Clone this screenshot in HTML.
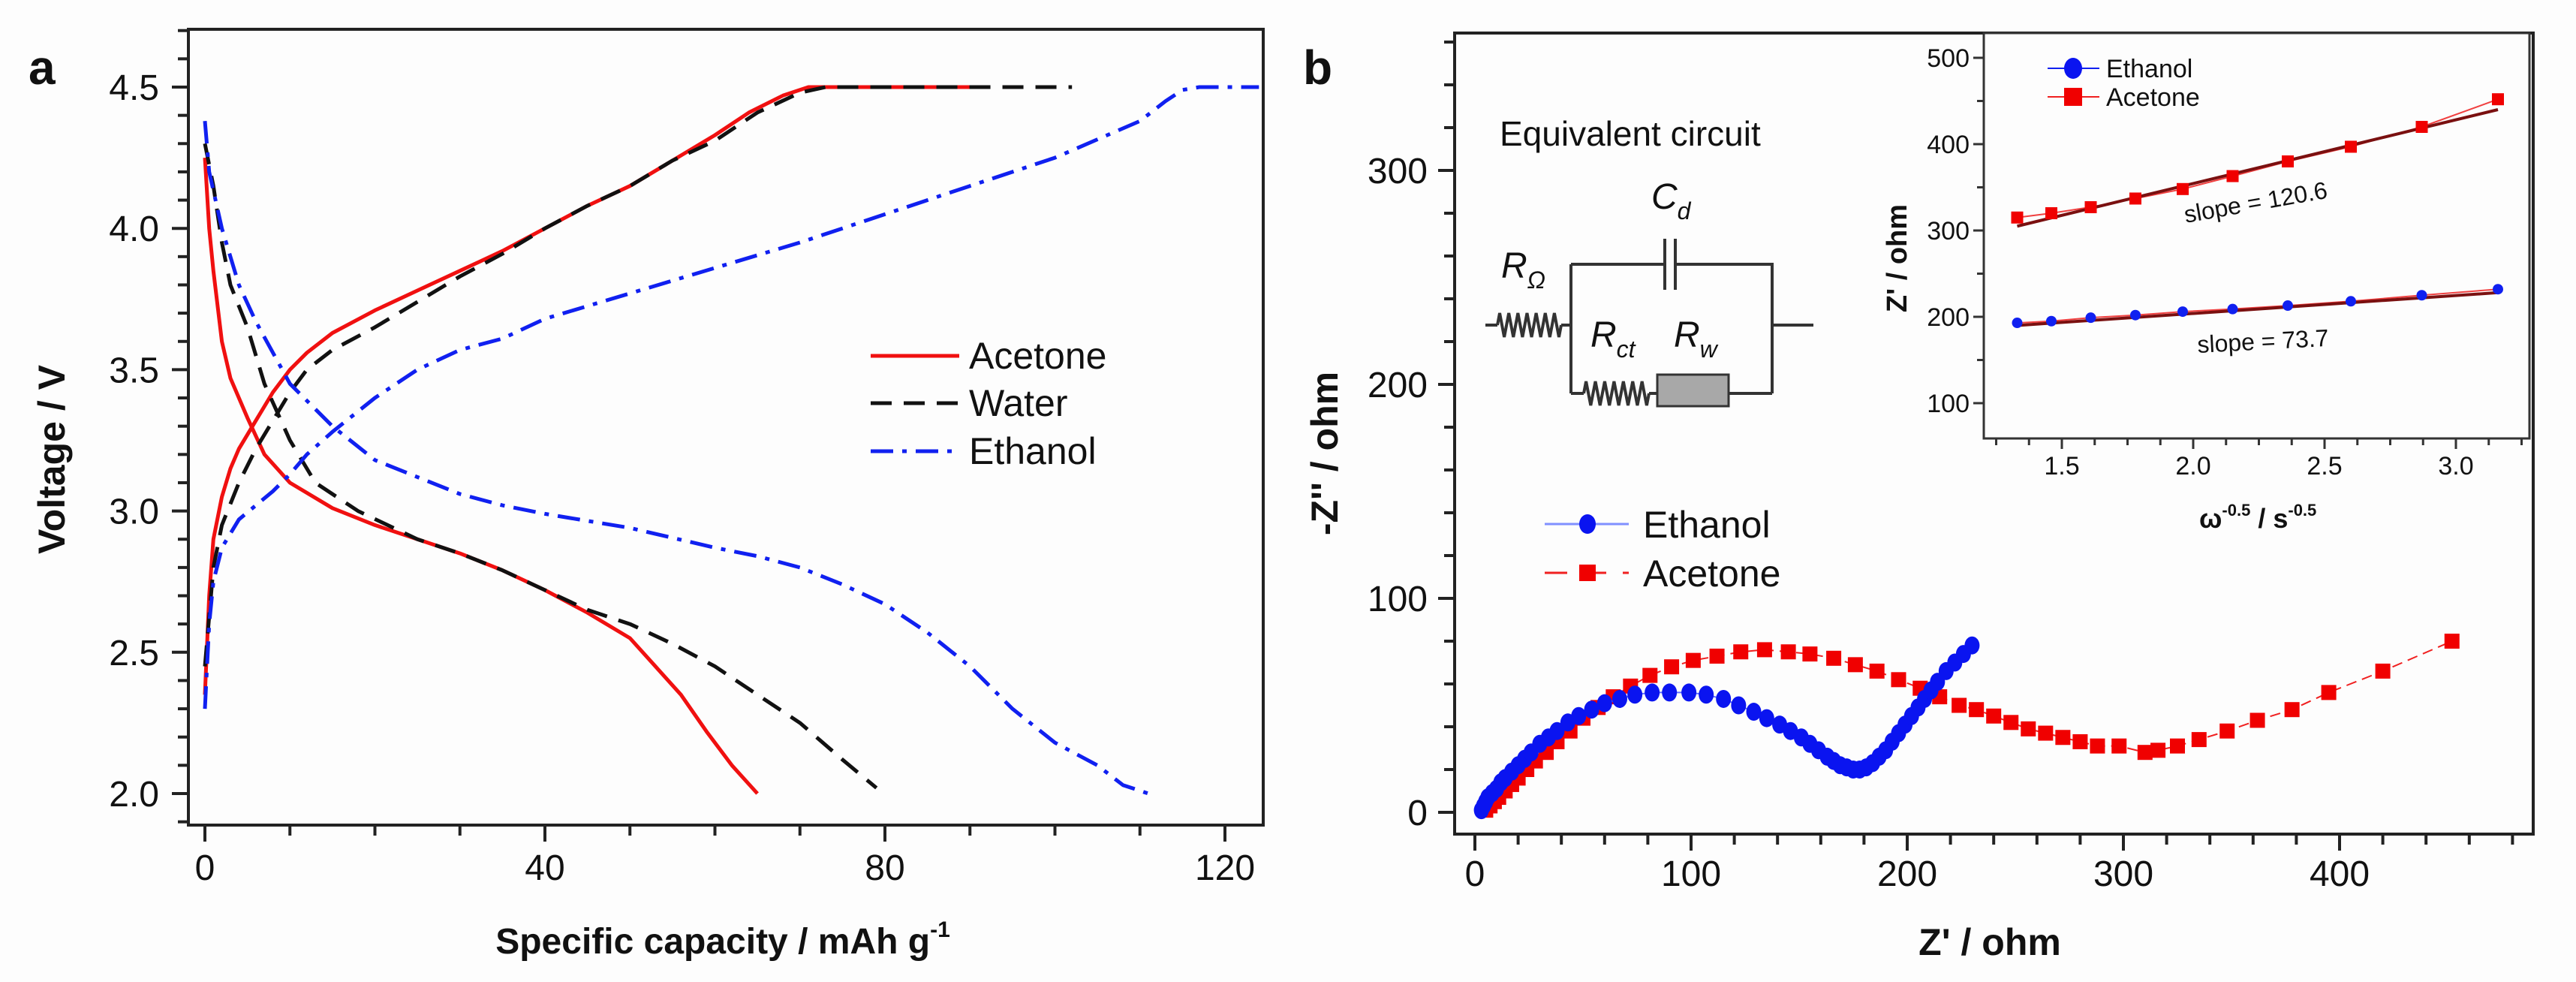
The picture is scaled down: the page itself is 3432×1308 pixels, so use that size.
<!DOCTYPE html>
<html><head><meta charset="utf-8"><style>
html,body{margin:0;padding:0;background:#fff}
svg{display:block}
text{font-family:"Liberation Sans",Arial,sans-serif;fill:#111}
</style></head><body>
<svg id="fig" width="3432" height="1308" viewBox="0 0 3432 1308" xmlns="http://www.w3.org/2000/svg">
<rect width="3432" height="1308" fill="#fdfdfd"/>
<g id="pa"></g>
<g id="pb"></g>
<g id="inset"></g>
</svg>
<script>
// ---------- Panel a data ----------
const aXTicks = [0,40,80,120];
const aYTicks = [2.0,2.5,3.0,3.5,4.0,4.5];
const acChgX = [0,0.5,1,2,3,4,6,8,10,12,15,20,25,30,35,40,45,50,55,60,64,68,71,92];
const acChgY = [2.35,2.7,2.9,3.05,3.15,3.22,3.32,3.42,3.5,3.56,3.63,3.71,3.78,3.85,3.92,4.0,4.08,4.15,4.24,4.33,4.41,4.47,4.5,4.5];
const waChgX = [0,1,2,4,6,8,10,12,15,20,25,30,35,40,45,50,55,60,65,70,73,102];
const waChgY = [2.45,2.8,2.95,3.1,3.22,3.32,3.42,3.5,3.57,3.65,3.74,3.83,3.91,4.0,4.08,4.15,4.24,4.31,4.41,4.48,4.5,4.5];
const etChgX = [0,0.5,1,2,4,6,8,10,12,15,20,25,30,35,40,50,60,70,80,90,100,110,113,115,117,124];
const etChgY = [2.3,2.6,2.75,2.87,2.97,3.02,3.07,3.13,3.2,3.28,3.4,3.5,3.57,3.61,3.68,3.77,3.86,3.95,4.05,4.15,4.25,4.38,4.45,4.49,4.5,4.5];
const acDisX = [0,0.5,1,2,3,5,7,10,15,20,25,30,35,40,45,50,53,56,59,62,65];
const acDisY = [4.25,4.0,3.85,3.6,3.47,3.33,3.2,3.1,3.01,2.95,2.9,2.85,2.79,2.72,2.64,2.55,2.45,2.35,2.22,2.1,2.0];
const waDisX = [0,1,2,3,5,7,10,13,18,25,30,35,40,45,50,55,60,65,70,75,79];
const waDisY = [4.3,4.15,3.95,3.8,3.65,3.45,3.25,3.1,3.0,2.9,2.85,2.79,2.72,2.65,2.6,2.53,2.45,2.35,2.25,2.12,2.02];
const etDisX = [0,0.5,2,4,6,10,15,20,25,30,35,40,50,60,65,70,75,80,85,90,95,100,105,108,111];
const etDisY = [4.38,4.2,4.0,3.8,3.67,3.45,3.3,3.18,3.12,3.06,3.02,2.99,2.94,2.87,2.84,2.8,2.74,2.67,2.57,2.45,2.3,2.18,2.1,2.03,2.0];

// ---------- Panel b data ----------
const bXTicks = [0,100,200,300,400];
const bYTicks = [0,100,200,300];
const ethZre = [3,4,5,6,8,10,12,14,17,20,23,26,30,34,38,43,48,54,60,67,74,82,90,99,107,115,122,129,135,141,146,151,155,159,163,166,169,172,175,178,181,184,187,190,193,196,199,202,205,208,211,214,218,222,226,230];
const ethZim = [1,3,5,7,9,11,14,16,19,22,25,28,32,35,38,42,45,48,51,53,55,56,56,56,55,53,50,47,44,41,38,35,32,29,26,24,22,21,20,20,21,23,26,29,33,37,41,45,49,53,57,61,66,70,74,78];
const aceZre = [5,7,9,11,14,17,20,24,28,33,38,44,50,57,64,72,81,91,101,112,123,134,145,155,166,176,186,196,206,215,224,232,240,248,256,264,272,280,288,298,310,316,325,335,348,362,378,395,420,452];
const aceZim = [1,3,5,7,10,13,16,20,24,28,33,38,44,49,54,59,64,68,71,73,75,76,75,74,72,69,66,62,58,54,50,48,45,42,39,37,35,33,31,31,28,29,31,34,38,43,48,56,66,80];

// ---------- Inset data ----------
const inXTicks = [1.5,2.0,2.5,3.0];
const inYTicks = [100,200,300,400,500];
const inOmega = [1.33,1.46,1.61,1.78,1.96,2.15,2.36,2.60,2.87,3.16];
const inAce = [315,320,327,337,348,363,380,397,420,452];
const inEth = [193,195,199,202,206,209,213,218,225,232];
const fitAce = [305,440];
const fitEth = [190,228];

const NS='http://www.w3.org/2000/svg';
function mk(parent,tag,attrs){const e=document.createElementNS(NS,tag);for(const k in attrs)e.setAttribute(k,attrs[k]);parent.appendChild(e);return e;}
function txt(parent,x,y,s,size,opts){opts=opts||{};const t=mk(parent,'text',{x:x,y:y,'font-size':size,'text-anchor':opts.anchor||'start'});if(opts.bold)t.setAttribute('font-weight','bold');if(opts.italic)t.setAttribute('font-style','italic');if(opts.transform)t.setAttribute('transform',opts.transform);t.textContent=s;return t;}
function lin(d0,d1,p0,p1){return v=>p0+(v-d0)*(p1-p0)/(d1-d0);}
function pathD(xs,ys,sx,sy){return xs.map((v,i)=>(i?'L':'M')+sx(v).toFixed(1)+' '+sy(ys[i]).toFixed(1)).join(' ');}

// ===== Panel a =====
const pa=document.getElementById('pa');
const ax=lin(0,40,273,726), ay=lin(4.5,2.0,116,1057);
let f=mk(pa,'rect',{x:251,y:39,width:1432,height:1060,fill:'none',stroke:'#222','stroke-width':4});

for(let v=0;v<=120;v+=10){const x=ax(v);const maj=v%40===0;mk(pa,'line',{x1:x,y1:1099,x2:x,y2:1099+(maj?22:14),stroke:'#222','stroke-width':4});}
for(let v=1.9;v<=4.71;v+=0.1){const y=ay(v);const maj=Math.abs(v*2-Math.round(v*2))<1e-6;mk(pa,'line',{x1:251,y1:y,x2:251-(maj?22:14),y2:y,stroke:'#222','stroke-width':4});}
aXTicks.forEach(v=>{const t=txt(pa,ax(v),1172,String(v),48,{anchor:'middle'});});
aYTicks.forEach(v=>{const t=txt(pa,212,ay(v)+17,v.toFixed(1),48,{anchor:'end'});});
let t=txt(pa,963,1270,'Specific capacity / mAh g',48,{anchor:'middle',bold:true});
const sup=mk(t,'tspan',{'font-size':30,dy:-22});sup.textContent='-1';

t=txt(pa,86,612,'Voltage / V',50,{anchor:'middle',bold:true,transform:'rotate(-90 86 612)'});

t=txt(pa,38,112,'a',64,{bold:true});
const aSeries=[
 [acChgX,acChgY,'#f01010','none','acetone-charge-curve'],[acDisX,acDisY,'#f01010','none','acetone-discharge-curve'],
 [waChgX,waChgY,'#111','28 16','water-charge-curve'],[waDisX,waDisY,'#111','28 16','water-discharge-curve'],
 [etChgX,etChgY,'#1020f0','30 12 6 12','ethanol-charge-curve'],[etDisX,etDisY,'#1020f0','30 12 6 12','ethanol-discharge-curve']];
aSeries.forEach(s=>{const p=mk(pa,'path',{d:pathD(s[0],s[1],ax,ay),fill:'none',stroke:s[2],'stroke-width':5,'stroke-dasharray':s[3],'stroke-linejoin':'round'});});
[['Acetone','#f01010','none',474],['Water','#111','28 16',537],['Ethanol','#1020f0','30 12 6 12',601]].forEach(l=>{
 const g=mk(pa,'g',{});
 mk(g,'line',{x1:1160,y1:l[3],x2:1278,y2:l[3],stroke:l[1],'stroke-width':5,'stroke-dasharray':l[2]});
 txt(g,1291,l[3]+17,l[0],50);});

// ===== Panel b =====
const pb=document.getElementById('pb');
const bx=lin(0,100,1965,2253), by=lin(0,100,1082,797);
f=mk(pb,'rect',{x:1938,y:44,width:1437,height:1067,fill:'none',stroke:'#222','stroke-width':4});

for(let v=0;v<=480;v+=20){const x=bx(v);const maj=v%100===0;mk(pb,'line',{x1:x,y1:1111,x2:x,y2:1111+(maj?22:14),stroke:'#222','stroke-width':4});}
for(let v=0;v<=360;v+=20){const y=by(v);const maj=v%100===0;mk(pb,'line',{x1:1938,y1:y,x2:1938-(maj?22:14),y2:y,stroke:'#222','stroke-width':4});}
bXTicks.forEach(v=>{const t=txt(pb,bx(v),1180,String(v),48,{anchor:'middle'});});
bYTicks.forEach(v=>{const t=txt(pb,1902,by(v)+17,String(v),48,{anchor:'end'});});
t=txt(pb,2651,1272,"Z' / ohm",50,{anchor:'middle',bold:true});
t=txt(pb,1782,604,"-Z'' / ohm",50,{anchor:'middle',bold:true,transform:'rotate(-90 1782 604)'});
t=txt(pb,1736,112,'b',64,{bold:true});
// series
let p=mk(pb,'path',{d:pathD(aceZre,aceZim,bx,by),fill:'none',stroke:'#f02020','stroke-width':2,'stroke-dasharray':'14 8'});

aceZre.forEach((v,i)=>{const r=mk(pb,'rect',{x:bx(v)-10,y:by(aceZim[i])-10,width:20,height:20,fill:'#f00000'});});
p=mk(pb,'path',{d:pathD(ethZre,ethZim,bx,by),fill:'none',stroke:'#6070ff','stroke-width':2});

ethZre.forEach((v,i)=>{const c=mk(pb,'ellipse',{cx:bx(v),cy:by(ethZim[i]),rx:10,ry:12,fill:'#0a14f0'});});
// legend
let g=mk(pb,'g',{});
mk(g,'line',{x1:2058,y1:698,x2:2170,y2:698,stroke:'#8090ff','stroke-width':3});
mk(g,'ellipse',{cx:2115,cy:698,rx:11,ry:13,fill:'#0a14f0'});txt(g,2189,716,'Ethanol',50);
g=mk(pb,'g',{});
mk(g,'line',{x1:2058,y1:763,x2:2170,y2:763,stroke:'#f02020','stroke-width':3,'stroke-dasharray':'30 22'});
mk(g,'rect',{x:2104,y:752,width:22,height:22,fill:'#f00000'});txt(g,2189,781,'Acetone',50);
// equivalent circuit
g=mk(pb,'g',{});
txt(g,1998,194,'Equivalent circuit',46);
const W={stroke:'#333','stroke-width':4,fill:'none'};
function zig(x0,x1,y){let d='M'+x0+' '+y;const n=7,w=(x1-x0)/n;for(let i=0;i<n;i++){d+=' L'+(x0+w*(i+0.25))+' '+(y-16)+' L'+(x0+w*(i+0.75))+' '+(y+16);}d+=' L'+x1+' '+y;return d;}
mk(g,'path',Object.assign({d:'M1979 433 L1995 433'},W));
mk(g,'path',Object.assign({d:zig(1995,2080,433)},W));
mk(g,'path',Object.assign({d:'M2080 433 L2093 433 M2093 352 L2093 524 M2093 352 L2218 352 M2232 352 L2361 352 L2361 524 M2361 433 L2416 433 M2093 524 L2110 524 M2197 524 L2208 524 M2303 524 L2361 524'},W));
mk(g,'path',Object.assign({d:'M2218 318 L2218 386 M2232 318 L2232 386'},W));
mk(g,'path',Object.assign({d:zig(2110,2197,524)},W));
mk(g,'rect',{x:2208,y:499,width:95,height:42,fill:'#a8a8a8',stroke:'#333','stroke-width':3});
t=txt(g,2200,278,'C',48,{italic:true});const s1=mk(t,'tspan',{'font-size':32,dy:14});s1.textContent='d';
t=txt(g,2000,370,'R',48,{italic:true});const s2=mk(t,'tspan',{'font-size':32,dy:14});s2.textContent='Ω';
t=txt(g,2119,462,'R',48,{italic:true});const s3=mk(t,'tspan',{'font-size':32,dy:14});s3.textContent='ct';
t=txt(g,2230,462,'R',48,{italic:true});const s4=mk(t,'tspan',{'font-size':32,dy:14});s4.textContent='w';

// ===== Inset =====
const ins=document.getElementById('inset');
const ix=lin(1.5,3.0,2747,3272), iy=lin(100,500,537,77);
f=mk(ins,'rect',{x:2643,y:44,width:727,height:540,fill:'#fdfdfd',stroke:'#333','stroke-width':3});

for(let v=1.25;v<=3.26;v+=0.125){const x=ix(v);const maj=Math.abs(v*2-Math.round(v*2))<1e-6;mk(ins,'line',{x1:x,y1:584,x2:x,y2:584+(maj?14:9),stroke:'#333','stroke-width':3});}
for(let v=100;v<=500;v+=50){const y=iy(v);const maj=v%100===0;mk(ins,'line',{x1:2643,y1:y,x2:2643-(maj?14:9),y2:y,stroke:'#333','stroke-width':3});}
inXTicks.forEach(v=>{const t=txt(ins,ix(v),632,v.toFixed(1),34,{anchor:'middle'});});
inYTicks.forEach(v=>{const t=txt(ins,2624,iy(v)+12,String(v),34,{anchor:'end'});});
t=txt(ins,2540,344,"Z' / ohm",38,{anchor:'middle',bold:true,transform:'rotate(-90 2540 344)'});
t=txt(ins,2930,703,'ω',36,{bold:true});
let sp=mk(t,'tspan',{'font-size':22,dy:-16});sp.textContent='-0.5';
sp=mk(t,'tspan',{'font-size':36,dy:16});sp.textContent=' / s';
sp=mk(t,'tspan',{'font-size':22,dy:-16});sp.textContent='-0.5';

[[inAce,fitAce,'acetone'],[inEth,fitEth,'ethanol']].forEach(s=>{
 const l=mk(ins,'path',{d:pathD(inOmega,s[0],ix,iy),fill:'none',stroke:'#f04040','stroke-width':2});
 const fl=mk(ins,'line',{x1:ix(inOmega[0]),y1:iy(s[1][0]),x2:ix(inOmega[inOmega.length-1]),y2:iy(s[1][1]),stroke:'#7a1010','stroke-width':4});
});
inOmega.forEach((v,i)=>{const r=mk(ins,'rect',{x:ix(v)-8,y:iy(inAce[i])-8,width:16,height:16,fill:'#f00000'});
 const c=mk(ins,'circle',{cx:ix(v),cy:iy(inEth[i]),r:7,fill:'#1020f0'});});
t=txt(ins,2912,297,'slope = 120.6',32,{transform:'rotate(-10 2912 297)'});
t=txt(ins,2928,470,'slope = 73.7',32,{transform:'rotate(-3 2928 470)'});
g=mk(ins,'g',{});
mk(g,'line',{x1:2728,y1:91,x2:2797,y2:91,stroke:'#1020f0','stroke-width':2});mk(g,'ellipse',{cx:2762,cy:91,rx:12,ry:14,fill:'#0a14f0'});txt(g,2806,103,'Ethanol',34);
g=mk(ins,'g',{});
mk(g,'line',{x1:2728,y1:129,x2:2797,y2:129,stroke:'#f02020','stroke-width':2});mk(g,'rect',{x:2750,y:117,width:24,height:24,fill:'#f00000'});txt(g,2806,141,'Acetone',34);
</script>
</body></html>
